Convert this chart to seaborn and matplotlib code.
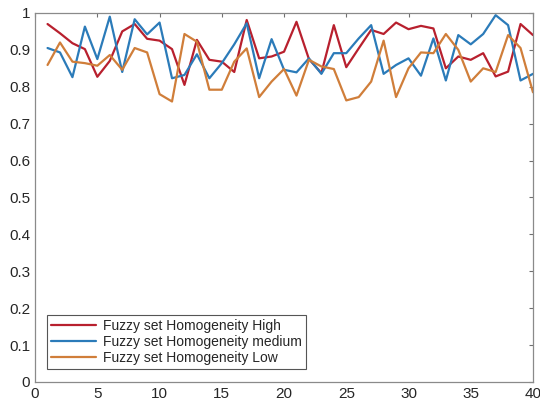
import pandas as pd
import numpy as np
import matplotlib.pyplot as plt
import seaborn as sns

x = list(range(1, 41))

high = [0.970, 0.945, 0.918, 0.902, 0.827, 0.870, 0.950, 0.970, 0.930, 0.925,
        0.902, 0.805, 0.927, 0.873, 0.868, 0.840, 0.981, 0.877, 0.882, 0.895,
        0.976, 0.875, 0.837, 0.967, 0.853, 0.904, 0.954, 0.943, 0.974, 0.956,
        0.965, 0.958, 0.850, 0.882, 0.873, 0.891, 0.828, 0.841, 0.970, 0.940]

medium = [0.905, 0.893, 0.826, 0.963, 0.875, 0.990, 0.840, 0.983, 0.942, 0.974,
          0.823, 0.832, 0.888, 0.823, 0.864, 0.915, 0.972, 0.823, 0.929, 0.846,
          0.839, 0.877, 0.835, 0.891, 0.891, 0.931, 0.967, 0.835, 0.859, 0.877,
          0.830, 0.931, 0.817, 0.940, 0.915, 0.943, 0.994, 0.967, 0.817, 0.835]

low = [0.859, 0.920, 0.868, 0.864, 0.857, 0.886, 0.846, 0.905, 0.893, 0.780,
       0.760, 0.943, 0.922, 0.792, 0.792, 0.868, 0.904, 0.772, 0.814, 0.848,
       0.776, 0.873, 0.855, 0.848, 0.763, 0.772, 0.814, 0.925, 0.772, 0.850,
       0.893, 0.891, 0.943, 0.900, 0.814, 0.850, 0.840, 0.940, 0.905, 0.785]

labels = ['Fuzzy set Homogeneity High',
          'Fuzzy set Homogeneity medium',
          'Fuzzy set Homogeneity Low']
colors = ['#B8202E', '#2B7BB9', '#D07E3A']

df = pd.DataFrame({
    'x': x * 3,
    'value': high + medium + low,
    'series': [labels[0]] * 40 + [labels[1]] * 40 + [labels[2]] * 40,
})

sns.set_style('white')
plt.rcParams['font.family'] = ['Liberation Sans', 'DejaVu Sans']

fig = plt.figure(figsize=(5.4, 4.05), dpi=100)
ax = fig.add_axes([0.065, 0.057, 0.922, 0.911])

sns.lineplot(data=df, x='x', y='value', hue='series', palette=colors,
             linewidth=1.6, ax=ax, legend=True)

ax.set_xlim(0, 40)
ax.set_ylim(0, 1)
ax.set_xticks(range(0, 41, 5))
ax.set_yticks(np.round(np.arange(0, 1.01, 0.1), 1))
ax.set_yticklabels(['0', '0.1', '0.2', '0.3', '0.4', '0.5', '0.6', '0.7', '0.8', '0.9', '1'])
ax.set_xlabel('')
ax.set_ylabel('')
ax.tick_params(direction='in', top=True, right=True, length=3, width=0.8,
               colors='#707070', labelcolor='#262626', labelsize=11)
for s in ax.spines.values():
    s.set_color('#8a8a8a')
    s.set_linewidth(0.9)

leg = ax.legend(loc='lower left', bbox_to_anchor=(0.024, 0.035), borderaxespad=0,
                fontsize=10, handlelength=3.2, frameon=True, fancybox=False,
                edgecolor='#555555', framealpha=1, borderpad=0.3,
                labelspacing=0.15, handletextpad=0.5)
leg.get_frame().set_linewidth(0.8)

fig.savefig('out.png', dpi=100)
